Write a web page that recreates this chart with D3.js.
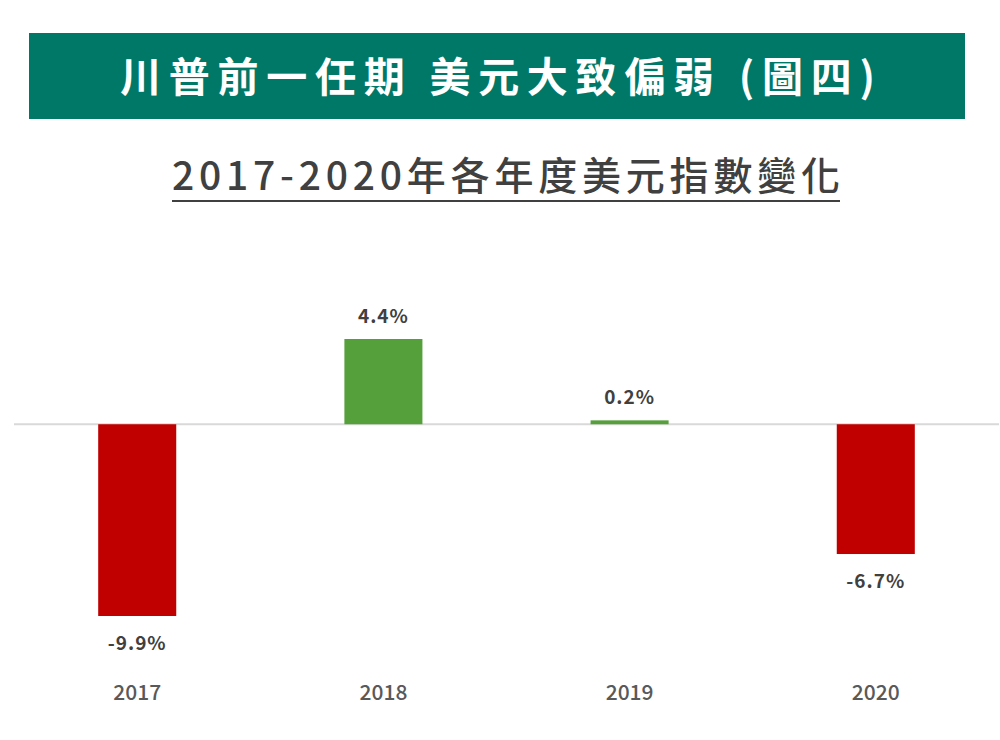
<!DOCTYPE html>
<html><head><meta charset="utf-8">
<script src="https://cdn.jsdelivr.net/npm/d3@7"></script>
<style>body{margin:0;background:#fff}</style>
</head><body><div id="chart"></div>
<script>
const years = ["2017", "2018", "2019", "2020"];
const changes = [-9.9, 4.4, 0.2, -6.7];
const valueLabels = ["-9.9%", "4.4%", "0.2%", "-6.7%"];

const width = 1000, height = 740;
const font = "'Noto Sans CJK TC', 'Noto Sans', sans-serif";
const svg = d3.select("#chart").append("svg")
    .attr("width", width).attr("height", height);

// title banner
svg.append("rect").attr("x", 29).attr("y", 33).attr("width", 936).attr("height", 86)
    .attr("fill", "#007868");
svg.append("text").attr("x", 120).attr("y", 92)
    .attr("textLength", 755).attr("lengthAdjust", "spacing")
    .attr("fill", "#fff").attr("font-family", font).attr("font-weight", "bold")
    .attr("font-size", 41).text("川普前一任期 美元大致偏弱 (圖四)");

svg.append("text").attr("x", 172).attr("y", 190)
    .attr("textLength", 668).attr("lengthAdjust", "spacing")
    .attr("fill", "#404040").attr("font-family", font).attr("font-size", 39)
    .attr("font-weight", 500)
    .text("2017-2020年各年度美元指數變化");
svg.append("line").attr("x1", 172).attr("x2", 840)
    .attr("y1", 201).attr("y2", 201).attr("stroke", "#404040").attr("stroke-width", 2);

const x = d3.scaleBand().domain(years).range([14, 999]).paddingInner(0.683).paddingOuter(0.342);
const y = d3.scaleLinear().domain([-9.9, 4.4]).range([616, 339]);

svg.append("line").attr("x1", 14).attr("x2", 999).attr("y1", y(0)).attr("y2", y(0))
    .attr("stroke", "#d9d9d9").attr("stroke-width", 2);

svg.selectAll("rect.bar").data(changes).enter().append("rect").attr("class", "bar")
    .attr("x", (d, i) => x(years[i]))
    .attr("width", x.bandwidth())
    .attr("y", d => y(Math.max(0, d)))
    .attr("height", d => Math.max(3, Math.abs(y(d) - y(0))))
    .attr("fill", d => d < 0 ? "#c00000" : "#56a03c");

svg.selectAll("text.val").data(changes).enter().append("text").attr("class", "val")
    .attr("x", (d, i) => x(years[i]) + x.bandwidth() / 2)
    .attr("y", d => d < 0 ? y(d) + 34 : y(d) - 16)
    .attr("text-anchor", "middle").attr("fill", "#404040")
    .attr("font-family", font).attr("font-weight", "bold").attr("font-size", 19)
    .attr("letter-spacing", 1)
    .text((d, i) => valueLabels[i]);

const axis = svg.append("g").attr("transform", "translate(0,697)")
    .call(d3.axisBottom(x).tickSize(0));
axis.select(".domain").remove();
axis.selectAll("text").attr("fill", "#595959").attr("font-family", font)
    .attr("font-weight", 500).attr("font-size", 21).attr("dy", 0);
</script></body></html>
